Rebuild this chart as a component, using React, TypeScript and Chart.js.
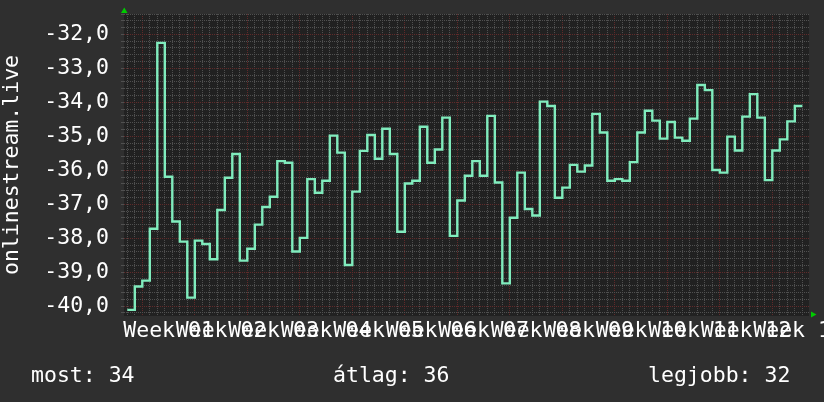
import React, { useEffect, useRef } from 'react';
import { Chart, registerables } from 'chart.js';

Chart.register(...registerables);

const FONT_FAMILY = "'DejaVu Sans Mono', monospace";
const TEXT_COLOR = '#ffffff';

// one value per day (day index 0 = first full day drawn)
const dailyValues: number[] = [
  -40.11, -39.42, -39.25, -37.72, -32.25, -36.19, -37.51, -38.10, -39.75, -38.07,
  -38.17, -38.62, -37.17, -36.22, -35.52, -38.66, -38.31, -37.60, -37.08, -36.78,
  -35.73, -35.78, -38.39, -37.99, -36.26, -36.66, -36.31, -34.98, -35.48, -38.79,
  -36.63, -35.43, -34.96, -35.66, -34.78, -35.52, -37.81, -36.39, -36.31, -34.72,
  -35.78, -35.39, -34.45, -37.93, -36.89, -36.16, -35.73, -36.16, -34.40, -36.36,
  -39.33, -37.40, -36.07, -37.14, -37.33, -33.98, -34.11, -36.81, -36.51, -35.84,
  -36.04, -35.86, -34.34, -34.89, -36.31, -36.26, -36.31, -35.76, -34.89, -34.25,
  -34.54, -35.07, -34.58, -35.04, -35.13, -34.48, -33.49, -33.64, -35.99, -36.07,
  -35.01, -35.42, -34.42, -33.76, -34.45, -36.29, -35.42, -35.09, -34.56, -34.11,
];

// week labels, centred in the middle of each week
const weekLabels: string[] = [
  'Week 01', 'Week 02', 'Week 03', 'Week 04', 'Week 05', 'Week 06', 'Week 07',
  'Week 08', 'Week 09', 'Week 10', 'Week 11', 'Week 12', 'Week 13',
];
const weekLabelDays: number[] = [5.5, 12.5, 19.5, 26.5, 33.5, 40.5, 47.5, 54.5, 61.5, 68.5, 75.5, 82.5, 89.5];
const firstWeekStartDay = 2;

const xMin = -0.44;
const xMax = 90.89;
const yMin = -40.29;
const yMax = -31.4;

const yAxisTitle = 'onlinestream.live';

const legendItems: { label: string; value: string }[] = [
  { label: 'most', value: '34' },
  { label: 'átlag', value: '36' },
  { label: 'legjobb', value: '32' },
];

const MINOR_GRID = 'rgba(80,80,80,1)';
const MAJOR_GRID = 'rgba(96,42,42,1)';

const zeroPad = (s: any) => {
  s.paddingLeft = 0;
  s.paddingRight = 0;
  s.paddingTop = 0;
  s.paddingBottom = 0;
};

const isInt = (v: number) => Math.abs(v - Math.round(v)) < 1e-6;

const decorPlugin = {
  id: 'rrdDecor',
  beforeDraw(chart: any) {
    const { ctx, chartArea: a } = chart;
    ctx.save();
    ctx.fillStyle = '#2f2f2f';
    ctx.fillRect(0, 0, chart.width, chart.height);
    ctx.fillStyle = '#212121';
    ctx.fillRect(a.left, a.top, a.right - a.left, a.bottom - a.top);
    ctx.restore();
  },
  afterDraw(chart: any) {
    const { ctx, chartArea: a } = chart;
    ctx.save();
    ctx.fillStyle = '#00cc00';
    ctx.beginPath();
    ctx.moveTo(a.left - 3, a.top - 1);
    ctx.lineTo(a.left + 3.5, a.top - 1);
    ctx.lineTo(a.left + 0.25, a.top - 6.5);
    ctx.closePath();
    ctx.fill();
    ctx.beginPath();
    ctx.moveTo(a.right + 2, a.bottom - 4.5);
    ctx.lineTo(a.right + 2, a.bottom + 1.5);
    ctx.lineTo(a.right + 7.5, a.bottom - 1.5);
    ctx.closePath();
    ctx.fill();
    ctx.restore();
  },
};

export default function App() {
  const canvasRef = useRef<HTMLCanvasElement | null>(null);

  useEffect(() => {
    if (!canvasRef.current) return;
    const points = dailyValues.map((v, i) => ({ x: i, y: v }));
    points.push({ x: dailyValues.length, y: dailyValues[dailyValues.length - 1] });

    const dayTicks: number[] = [];
    for (let d = Math.ceil(xMin); d <= Math.floor(xMax); d++) dayTicks.push(d);
    const yTicks: number[] = [];
    for (let n = Math.ceil(yMin * 5 - 1e-9); n <= Math.floor(yMax * 5 + 1e-9); n++) yTicks.push(n / 5);

    const chart = new Chart(canvasRef.current, {
      type: 'line',
      data: {
        datasets: [
          {
            data: points,
            borderColor: '#80ecbd',
            borderWidth: 2.4,
            stepped: 'before',
            pointRadius: 0,
            fill: false,
            xAxisID: 'x',
            yAxisID: 'y',
          },
        ],
      },
      options: {
        animation: false,
        responsive: false,
        devicePixelRatio: 1,
        layout: { padding: { top: 14, right: 15, bottom: 0, left: 0 } },
        plugins: { legend: { display: false }, tooltip: { enabled: false } },
        scales: {
          x: {
            type: 'linear',
            position: 'bottom',
            min: xMin,
            max: xMax,
            afterBuildTicks: (s: any) => {
              s.ticks = dayTicks.map((v) => ({ value: v }));
            },
            afterFit: (s: any) => {
              s.height = 0;
              zeroPad(s);
            },
            ticks: { display: false, autoSkip: false },
            grid: {
              color: (c: any) => ((c.tick && (c.tick.value - firstWeekStartDay) % 7 === 0) ? MAJOR_GRID : MINOR_GRID),
              drawTicks: false,
              lineWidth: 1,
            },
            border: { display: false, dash: [1, 1] },
          },
          xl: {
            type: 'linear',
            position: 'bottom',
            min: xMin,
            max: xMax,
            afterBuildTicks: (s: any) => {
              s.ticks = weekLabelDays.map((v) => ({ value: v }));
            },
            afterFit: (s: any) => {
              s.height = 86;
              zeroPad(s);
            },
            grid: { display: false, drawTicks: false },
            border: { display: false },
            ticks: {
              autoSkip: false,
              maxRotation: 0,
              minRotation: 0,
              padding: 3,
              color: TEXT_COLOR,
              font: { family: FONT_FAMILY, size: 21.5 },
              callback: (_v: any, i: number) => weekLabels[i],
            },
          },
          y: {
            type: 'linear',
            position: 'left',
            min: yMin,
            max: yMax,
            afterBuildTicks: (s: any) => {
              s.ticks = yTicks.map((v) => ({ value: v }));
            },
            afterFit: (s: any) => {
              s.width = 124;
              zeroPad(s);
            },
            ticks: {
              autoSkip: false,
              padding: 12,
              color: TEXT_COLOR,
              font: { family: FONT_FAMILY, size: 21.5 },
              callback: (v: any) => (isInt(Number(v)) ? Number(v).toFixed(1).replace('.', ',') : ''),
            },
            grid: {
              color: (c: any) => (c.tick && isInt(c.tick.value) ? MAJOR_GRID : MINOR_GRID),
              tickColor: MINOR_GRID,
              drawTicks: true,
              tickLength: 3,
              lineWidth: 1,
            },
            border: { display: false, dash: [1, 1] },
            title: {
              display: true,
              text: yAxisTitle,
              color: TEXT_COLOR,
              font: { family: FONT_FAMILY, size: 21.5 },
              padding: 0,
            },
          },
        },
      },
      plugins: [decorPlugin],
    } as any);

    return () => chart.destroy();
  }, []);

  const legendLefts = [31, 333, 648];

  return (
    <div style={{ position: 'absolute', left: 0, top: 0, width: 824, height: 402, background: '#2f2f2f', overflow: 'hidden' }}>
      <canvas ref={canvasRef} width={824} height={402} style={{ display: 'block', width: 824, height: 402 }} />
      {legendItems.map((item, i) => (
        <div
          key={item.label}
          style={{
            position: 'absolute',
            left: legendLefts[i],
            top: 363.5,
            fontFamily: FONT_FAMILY,
            fontSize: 21.5,
            lineHeight: '22px',
            color: TEXT_COLOR,
            whiteSpace: 'pre',
          }}
        >
          {`${item.label}: ${item.value}`}
        </div>
      ))}
    </div>
  );
}
